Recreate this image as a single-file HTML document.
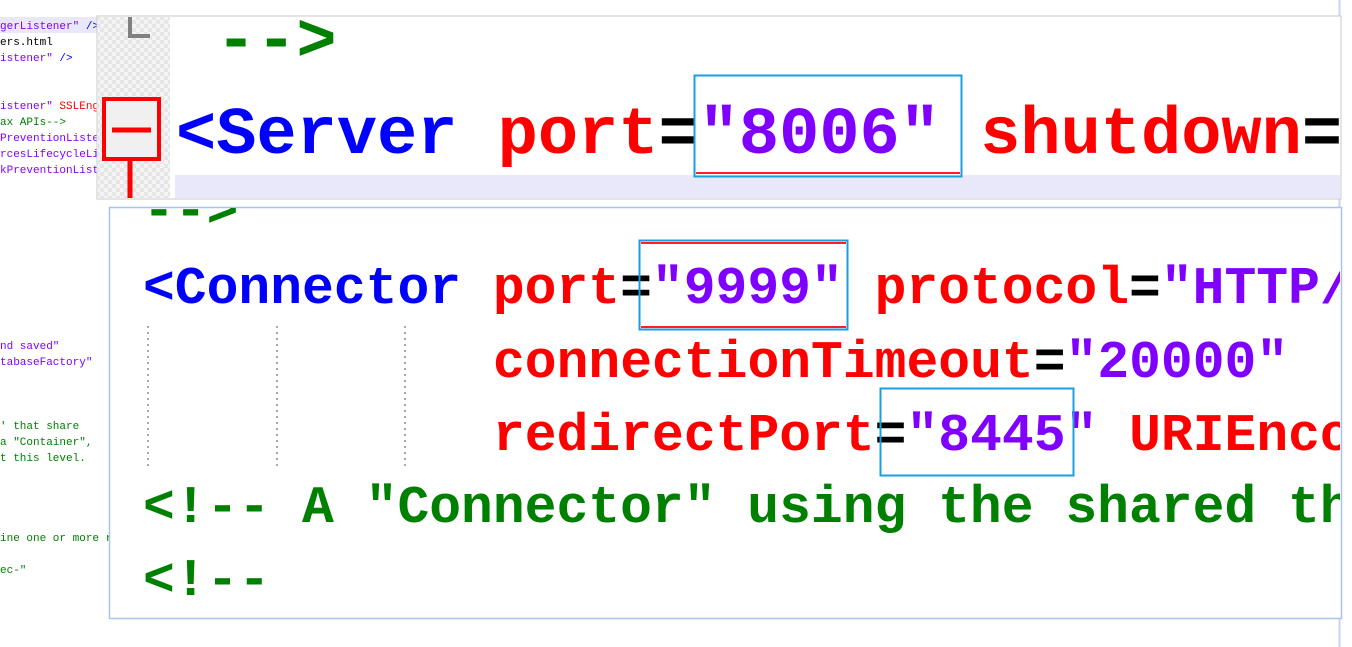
<!DOCTYPE html>
<html><head><meta charset="utf-8"><style>
html,body{margin:0;padding:0;background:#fff;width:1352px;height:647px;overflow:hidden}
svg{display:block}
.m{font-family:"Liberation Mono","Courier New",monospace}
</style></head><body>
<svg width="1352" height="647" viewBox="0 0 1352 647" xmlns="http://www.w3.org/2000/svg">
<defs>
<pattern id="chk" width="8" height="8" patternUnits="userSpaceOnUse">
<rect width="8" height="8" fill="#f4f4f4"/><rect width="4" height="4" fill="#e6e6e6"/><rect x="4" y="4" width="4" height="4" fill="#e6e6e6"/>
</pattern>
<clipPath id="cp1"><rect x="98" y="17" width="1242" height="181"/></clipPath>
<clipPath id="cp2"><rect x="110" y="208" width="1230" height="410"/></clipPath>
</defs>
<rect x="0" y="17" width="98" height="16" fill="#e8e8fa"/>
<g class="m" font-size="11">
<text x="0" y="29" fill="#8000ff">gerListener" <tspan fill="#0000ff">/&gt;</tspan></text>
<text x="0" y="45" fill="#000">ers.html</text>
<text x="0" y="61" fill="#8000ff">istener" <tspan fill="#0000ff">/&gt;</tspan></text>
<text x="0" y="109" fill="#8000ff">istener" <tspan fill="#ff0000">SSLEngine</tspan></text>
<text x="0" y="125" fill="#008000">ax APIs--&gt;</text>
<text x="0" y="141" fill="#8000ff">PreventionListener</text>
<text x="0" y="157" fill="#8000ff">rcesLifecycleListener</text>
<text x="0" y="173" fill="#8000ff">kPreventionListener</text>
<text x="0" y="349" fill="#8000ff">nd saved"</text>
<text x="0" y="365" fill="#8000ff">tabaseFactory"</text>
<text x="0" y="429" fill="#008000">' that share</text>
<text x="0" y="445" fill="#008000">a "Container",</text>
<text x="0" y="461" fill="#008000">t this level.</text>
<text x="0" y="541" fill="#008000">ine one or more r</text>
<text x="0" y="573" fill="#008000">ec-"</text>
</g>
<line x1="1339.5" y1="0" x2="1339.5" y2="647" stroke="#c9d6ee" stroke-width="2"/>

<rect x="97" y="16" width="1244" height="183" fill="#fff" stroke="#c8c8c8"/>
<g clip-path="url(#cp1)">
<rect x="98" y="17" width="72" height="181" fill="url(#chk)"/>
<rect x="175" y="175" width="1170" height="23" fill="#e8e8fa"/>
<path d="M130 17 V36 H150" fill="none" stroke="#808080" stroke-width="4"/>
<rect x="104" y="99" width="55" height="60" fill="#f0f0f0" stroke="#ff0000" stroke-width="4"/>
<line x1="112" y1="130" x2="151" y2="130" stroke="#ff0000" stroke-width="5"/>
<line x1="130" y1="160" x2="130" y2="198" stroke="#ff0000" stroke-width="5"/>
<g class="m" font-size="67" font-weight="bold">
<text x="216" y="60" fill="#008000">--&gt;</text>
<text x="176" y="153"><tspan fill="#0000ff">&lt;Server</tspan> <tspan fill="#ff0000">port</tspan><tspan fill="#000">=</tspan><tspan fill="#8000ff">"8006"</tspan> <tspan fill="#ff0000">shutdown</tspan><tspan fill="#000">=</tspan></text>
</g>
</g>
<rect x="694.5" y="75.5" width="267" height="101" fill="none" stroke="#1a9ee0" stroke-width="2"/>
<line x1="696" y1="173" x2="960" y2="173" stroke="#ff2020" stroke-width="2"/>

<rect x="109.5" y="207.5" width="1232" height="411" fill="#fff" stroke="#a9c4ec" stroke-width="1.5"/>
<g clip-path="url(#cp2)">
<g stroke="#aaa" stroke-width="2" stroke-dasharray="2 4">
<line x1="148" y1="326" x2="148" y2="468"/>
<line x1="277" y1="326" x2="277" y2="468"/>
<line x1="405" y1="326" x2="405" y2="468"/>
</g>
<g class="m" font-size="53" font-weight="bold">
<text x="143" y="226" fill="#008000">--&gt;</text>
<text x="143" y="303"><tspan fill="#0000ff">&lt;Connector</tspan> <tspan fill="#ff0000">port</tspan><tspan fill="#000">=</tspan><tspan fill="#8000ff">"9999"</tspan> <tspan fill="#ff0000">protocol</tspan><tspan fill="#000">=</tspan><tspan fill="#8000ff">"HTTP/1.1"</tspan></text>
<text x="493" y="377"><tspan fill="#ff0000">connectionTimeout</tspan><tspan fill="#000">=</tspan><tspan fill="#8000ff">"20000"</tspan></text>
<text x="493" y="450"><tspan fill="#ff0000">redirectPort</tspan><tspan fill="#000">=</tspan><tspan fill="#8000ff">"8445"</tspan> <tspan fill="#ff0000">URIEncoding</tspan></text>
<text x="143" y="522" fill="#008000">&lt;!-- A "Connector" using the shared thread</text>
<text x="143" y="595" fill="#008000">&lt;!--</text>
</g>
</g>
<rect x="639.5" y="240.5" width="208" height="89" fill="none" stroke="#1a9ee0" stroke-width="2"/>
<line x1="641" y1="243" x2="846" y2="243" stroke="#ff2020" stroke-width="2"/>
<line x1="641" y1="327" x2="846" y2="327" stroke="#ff2020" stroke-width="2"/>
<rect x="880.5" y="388.5" width="193" height="87" fill="none" stroke="#1a9ee0" stroke-width="2"/>
</svg>
</body></html>
